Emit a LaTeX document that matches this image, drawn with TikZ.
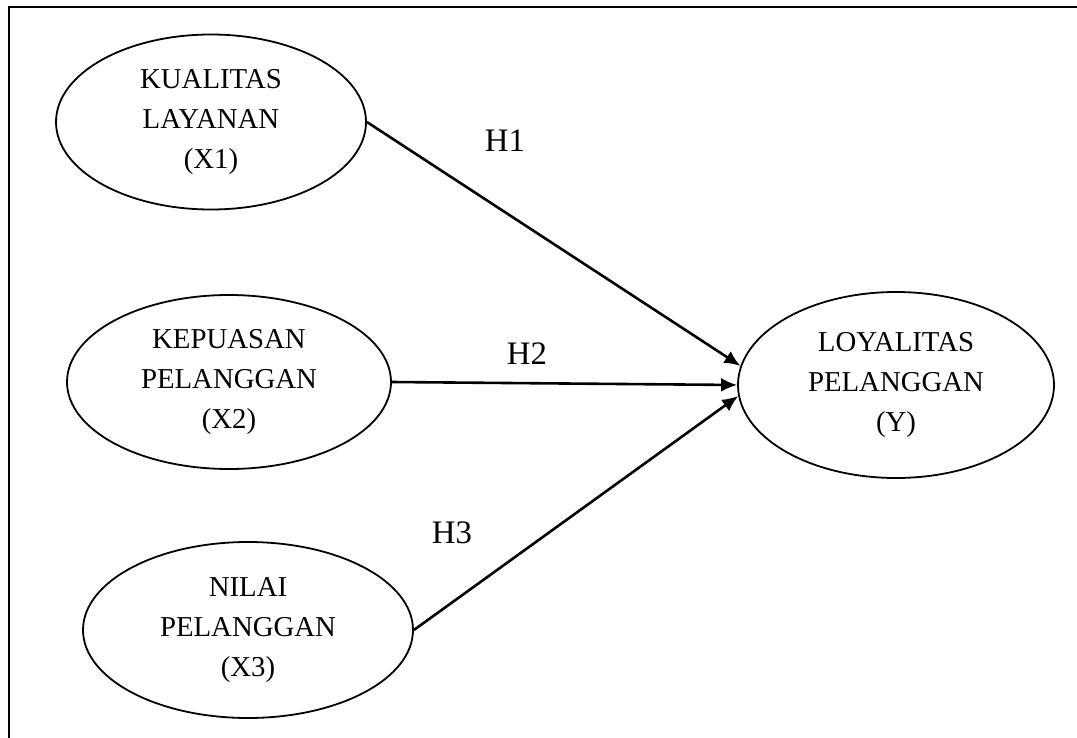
\documentclass[tikz,border=0pt]{standalone}
\usepackage{fontspec}
\setmainfont{Liberation Serif}
\usepackage{tikz}
\usetikzlibrary{shapes.geometric,arrows.meta,positioning}
\tikzset{
  var/.style={ellipse, draw, line width=0.9pt, inner sep=0pt, align=center,
              font=\fontsize{14.4}{20}\selectfont},
  hyp/.style={font=\fontsize{16.4}{20}\selectfont, inner sep=0pt},
  path/.style={-{Latex[length=8pt,width=7pt]}, line width=1.3pt}
}

\begin{document}
\begin{tikzpicture}[x=0.5pt, y=-0.5pt]

  \useasboundingbox (0,0) rectangle (1077,738);
  \draw[line width=1pt] (9,738) -- (9,7) -- (1077,7);

  \node[var, minimum width=155pt, minimum height=87.5pt] (X1) at (211,122)
    {KUALITAS\\LAYANAN\\(X1)};
  \node[var, minimum width=162pt, minimum height=87pt] (X2) at (229,382)
    {KEPUASAN\\PELANGGAN\\(X2)};
  \node[var, minimum width=165pt, minimum height=88pt] (X3) at (248,630)
    {NILAI\\PELANGGAN\\(X3)};
  \node[var, minimum width=158pt, minimum height=93pt] (Y) at (896,385)
    {LOYALITAS\\PELANGGAN\\(Y)};

  \draw[path] (X1.east) -- (Y.173);
  \draw[path] (X2.east) -- (Y.west);
  \draw[path] (X3.east) -- (Y.184);

  \node[hyp] (h1) at (505,141) {H1};
  \node[hyp] (h2) at (527,354) {H2};
  \node[hyp] (h3) at (452,533) {H3};

\end{tikzpicture}
\end{document}
